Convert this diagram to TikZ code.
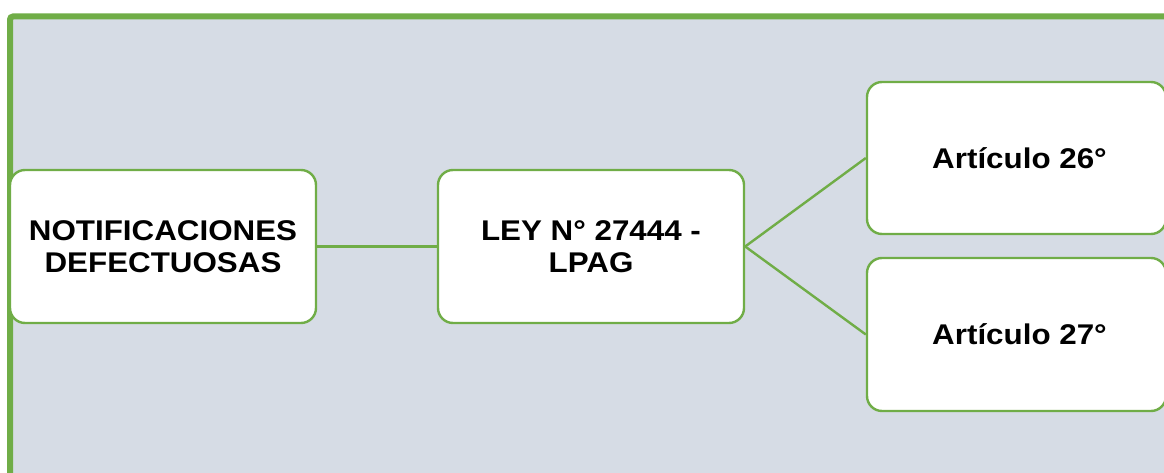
\documentclass[tikz,border=0pt]{standalone}
\usepackage{fontspec}
\newfontfamily\boxfont{Liberation Sans}[FakeStretch=1.1]
\definecolor{frameg}{HTML}{70AD47}
\definecolor{bgfill}{HTML}{D6DCE5}
\tikzset{
  boxnode/.style={draw=frameg, line width=2.4pt, fill=white, rounded corners=15pt,
    minimum height=153pt, inner sep=0pt, align=center,
    font=\boxfont\bfseries\fontsize{28.5}{31.5}\selectfont},
  link/.style={draw=frameg, line width=2.4pt}
}
\begin{document}
\begin{tikzpicture}[x=1pt,y=-1pt]
\useasboundingbox (0,0) rectangle (1164,473);
\begin{scope}
\clip (0,0) rectangle (1164,473);
\draw[draw=frameg, fill=bgfill, line width=6pt, rounded corners=3pt] (10,16.5) rectangle (1200,520);
\node[boxnode, minimum width=306pt] (a) at (163,246.5) {NOTIFICACIONES\\DEFECTUOSAS};
\node[boxnode, minimum width=306pt] (b) at (591,246.5) {LEY N° 27444 -\\LPAG};
\node[boxnode, minimum width=299pt, minimum height=152pt] (c) at (1016.5,158) {\hspace*{6pt}Artículo 26°};
\node[boxnode, minimum width=299pt, minimum height=153pt] (d) at (1016.5,334.5) {\hspace*{6pt}Artículo 27°};
\draw[link] (a.east) -- (b.west);
\draw[link] (b.east) -- (c.west);
\draw[link] (b.east) -- (d.west);
\end{scope}
\end{tikzpicture}
\end{document}
